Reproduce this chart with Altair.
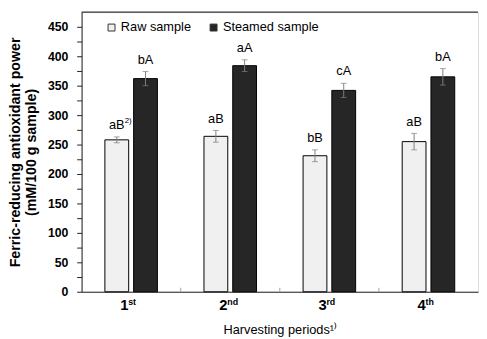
import altair as alt
import pandas as pd

periods = ["1st", "2nd", "3rd", "4th"]
numbers = ["1", "2", "3", "4"]
suffixes = ["st", "nd", "rd", "th"]
samples = ["Raw sample", "Steamed sample"]

raw = [258, 264, 231, 255]
raw_err = [5, 10, 10, 14]
steamed = [362, 384, 342, 365]
steamed_err = [12, 10, 12, 14]
raw_letters = ["aB", "aB", "bB", "aB"]
steamed_letters = ["bA", "aA", "cA", "bA"]
raw_sup = ["2)", "", "", ""]
y_ticks = list(range(0, 451, 25))

rows = []
for i, p in enumerate(periods):
    rows.append(dict(period=p, sample=samples[0], value=raw[i], err=raw_err[i],
                     lab=raw_letters[i], sup=raw_sup[i]))
    rows.append(dict(period=p, sample=samples[1], value=steamed[i], err=steamed_err[i],
                     lab=steamed_letters[i], sup=""))
df = pd.DataFrame(rows)
df["lo"] = df["value"] - df["err"]
df["hi"] = df["value"] + df["err"]

labels_df = pd.DataFrame({"period": periods, "num": numbers, "suf": suffixes})
bounds_df = pd.DataFrame({"period": periods[1:]})

W, H = 404, 285
FONT = "Liberation Sans"

xscale = alt.Scale(domain=periods, paddingInner=0, paddingOuter=0)
x_axis = alt.Axis(labels=False, ticks=False, title="Harvesting periods¹⁾",
                  titleFontSize=13, titleFontWeight="normal", titlePadding=33,
                  domainColor="#222222", titleColor="black", titleFont=FONT)
xoff = alt.XOffset("sample:N", scale=alt.Scale(domain=samples, paddingInner=0.172, paddingOuter=0.81))
yscale = alt.Scale(domain=[0, 475], nice=False)
y_axis = alt.Axis(values=y_ticks, labelExpr="datum.value % 50 == 0 ? datum.label : ''",
                  labelOverlap=False,
                  tickSize=5, labelPadding=9, labelFontSize=12.5, labelFontWeight="bold",
                  labelColor="black", tickColor="#222222", domainColor="#222222",
                  grid=False, labelFont=FONT,
                  title=["Ferric-reducing antioxidant power", "(mM/100 g sample)"],
                  titleFontSize=14.5, titleFontWeight="bold", titleColor="black",
                  titleLineHeight=16, titlePadding=9, titleFont=FONT)


def X(field="period:N", **kw):
    return alt.X(field, scale=xscale, axis=x_axis, **kw)


def Y(field):
    return alt.Y(field, scale=yscale, axis=y_axis)


base = alt.Chart(df)

bars = base.mark_bar(stroke="black", strokeWidth=1).encode(
    x=X(), xOffset=xoff,
    y=Y("value:Q"),
    color=alt.Color("sample:N", scale=alt.Scale(domain=samples, range=["#f0f0f0", "#262626"]),
                    legend=alt.Legend(orient="none", legendX=24, legendY=9, direction="horizontal",
                                      title=None, symbolType="square", symbolSize=50,
                                      symbolStrokeColor="#333333", symbolStrokeWidth=1,
                                      labelFontSize=13, labelFont=FONT, labelColor="black",
                                      columnPadding=16, labelOffset=3)),
)

err = base.mark_rule(color="#808080", strokeWidth=1).encode(
    x=X(), xOffset=xoff, y=Y("lo:Q"), y2="hi:Q")
caps_hi = base.mark_tick(color="#808080", thickness=1, size=6).encode(
    x=X(), xOffset=xoff, y=Y("hi:Q"))
caps_lo = base.mark_tick(color="#808080", thickness=1, size=6).encode(
    x=X(), xOffset=xoff, y=Y("lo:Q"))

letters = base.mark_text(dy=-8, fontSize=13, font=FONT, color="black", baseline="alphabetic").encode(
    x=X(), xOffset=xoff, y=Y("hi:Q"), text="lab:N")
sup = base.transform_filter("datum.sup != ''").mark_text(
    dx=8, dy=-14, fontSize=8, font=FONT, color="black", align="left", baseline="alphabetic").encode(
    x=X(), xOffset=xoff, y=Y("hi:Q"), text="sup:N")

num_txt = alt.Chart(labels_df).mark_text(
    dx=-7, fontSize=15, fontWeight="bold", font=FONT, color="black", baseline="alphabetic").encode(
    x=X(), y=alt.value(H + 19), text="num:N")
suf_txt = alt.Chart(labels_df).mark_text(
    dx=-3, fontSize=9, fontWeight="bold", font=FONT, color="black", align="left",
    baseline="alphabetic").encode(
    x=X(), y=alt.value(H + 14), text="suf:N")

bticks = alt.Chart(bounds_df).mark_rule(color="#a0a0a0").encode(
    x=X(bandPosition=0), y=alt.value(H - 4), y2=alt.value(H))

top_border = alt.Chart(pd.DataFrame({"a": [0]})).mark_rule(color="black", strokeWidth=1).encode(
    x=alt.value(0), x2=alt.value(W), y=alt.value(0))

chart = alt.layer(bars, err, caps_hi, caps_lo, letters, sup, num_txt, suf_txt, bticks, top_border).properties(
    width=W, height=H, padding={"left": 0, "top": 0, "right": 0, "bottom": 0}
).configure_view(stroke=None).configure(font=FONT)

chart.save("out.html", embed_options={"renderer": "svg", "actions": False})
